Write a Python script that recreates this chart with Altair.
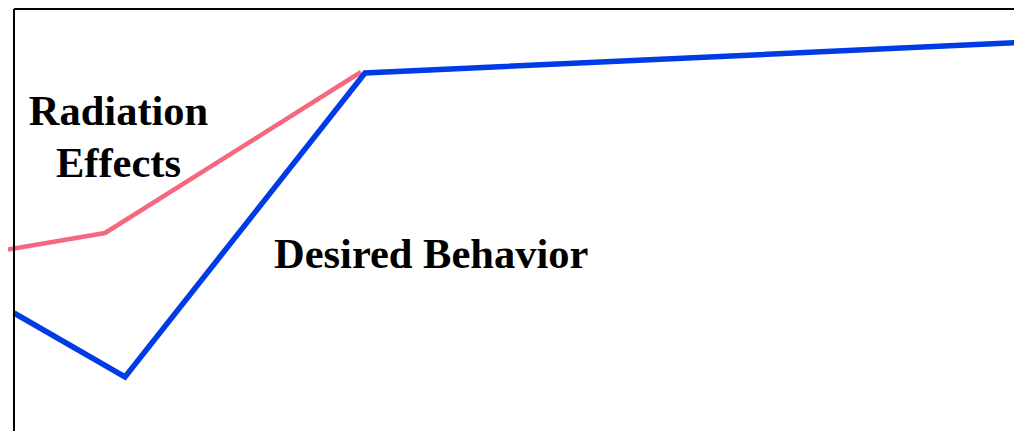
import altair as alt
import pandas as pd

# Conceptual diagram values (arbitrary units)
radiation_x = [-6, 91, 347]
radiation_y = [189.5, 206, 367]

desired_x = [0, 111, 351, 1008]
desired_y = [126, 62, 366, 396.5]

label_text = ["Radiation", "Effects", "Desired Behavior"]
label_x = [104.5, 104.5, 260]
label_y = [314, 262, 171]
label_align = ["center", "center", "left"]

rad = pd.DataFrame({"x": radiation_x, "y": radiation_y, "order": range(len(radiation_x))})
des = pd.DataFrame({"x": desired_x, "y": desired_y, "order": range(len(desired_x))})
labels = pd.DataFrame({"x": label_x, "y": label_y, "t": label_text, "a": label_align})

W, H = 1000, 422
xs = alt.Scale(domain=[0, W], nice=False, zero=False)
ys = alt.Scale(domain=[430 - H, 430], nice=False, zero=False)
noax = None

rad_line = alt.Chart(rad).mark_line(color="#F66780", strokeWidth=4.5, clip=False).encode(
    x=alt.X("x:Q", scale=xs, axis=noax),
    y=alt.Y("y:Q", scale=ys, axis=noax),
    order="order:Q",
)
des_line = alt.Chart(des).mark_line(color="#003BE6", strokeWidth=5.5, clip=False).encode(
    x=alt.X("x:Q", scale=xs, axis=noax),
    y=alt.Y("y:Q", scale=ys, axis=noax),
    order="order:Q",
)

txt_c = alt.Chart(labels[labels.a == "center"]).mark_text(
    font="Liberation Serif", fontWeight="bold", fontSize=42.5, align="center",
    baseline="alphabetic", color="black"
).encode(x=alt.X("x:Q", scale=xs, axis=noax), y=alt.Y("y:Q", scale=ys, axis=noax), text="t:N")

txt_l = alt.Chart(labels[labels.a == "left"]).mark_text(
    font="Liberation Serif", fontWeight="bold", fontSize=42.5, align="left",
    baseline="alphabetic", color="black"
).encode(x=alt.X("x:Q", scale=xs, axis=noax), y=alt.Y("y:Q", scale=ys, axis=noax), text="t:N")

left_border = alt.Chart(rad).mark_rule(color="black", strokeWidth=2).encode(
    x=alt.value(0), y=alt.value(0), y2=alt.value(H)
)
top_border = alt.Chart(rad).mark_rule(color="black", strokeWidth=2).encode(
    y=alt.value(0), x=alt.value(0), x2=alt.value(W + 10)
)

chart = alt.layer(rad_line, des_line, txt_c, txt_l, left_border, top_border).properties(
    width=W, height=H,
    autosize=alt.AutoSizeParams(type="none"),
    padding={"left": 6, "top": 1, "right": 0, "bottom": 0},
    background="white",
).configure_view(stroke=None)

chart.save("out.html", embed_options={"renderer": "svg", "actions": False})
